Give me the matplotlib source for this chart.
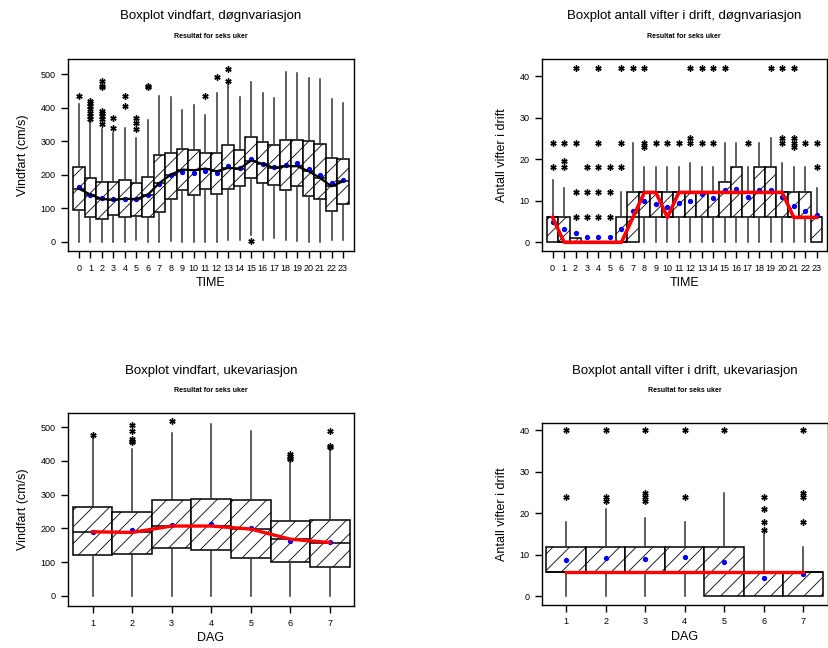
import matplotlib
matplotlib.use("Agg")
import matplotlib.pyplot as plt
import numpy as np

plt.rcParams['font.family'] = ['Liberation Sans', 'DejaVu Sans']
plt.rcParams['hatch.linewidth'] = 0.6

# --- vindfart, døgnvariasjon (TIME 0..23) ---
hours = list(range(24))
vf_q1 = [93, 72, 68, 78, 72, 77, 72, 87, 128, 155, 140, 158, 143, 158, 165, 190,
         175, 168, 153, 165, 135, 128, 90, 113]
vf_med = [158, 140, 127, 125, 128, 127, 140, 175, 200, 215, 213, 218, 210, 220, 218, 242,
          232, 220, 225, 225, 210, 190, 165, 180]
vf_q3 = [224, 190, 178, 178, 183, 175, 193, 258, 265, 275, 272, 265, 263, 287, 273, 312,
         297, 287, 303, 303, 300, 290, 250, 247]
vf_lo = [0, 0, 0, 0, 0, 5, 0, 0, 2, 0, 0, 0, 0, 5, 5, 20, 5, 10, 5, 2, 0, 0, 5, 5]
vf_hi = [412, 360, 337, 325, 338, 310, 363, 436, 432, 392, 407, 378, 443, 470, 432, 475,
         445, 430, 507, 503, 488, 485, 425, 413]
vf_mean = [162, 139, 130, 128, 127, 128, 140, 172, 200, 208, 205, 212, 205, 225, 220, 248,
           233, 223, 230, 236, 218, 200, 175, 183]
vf_out = [[435], [365, 375, 385, 395, 405, 415, 420], [350, 365, 375, 385, 390, 460, 465, 480],
          [340, 370], [405, 435], [335, 355, 370], [460, 463], [], [], [], [], [435], [492],
          [480, 515], [], [3], [], [], [], [], [], [], [], []]

# --- antall vifter i drift, døgnvariasjon ---
av_q1 = [0, 0, 0, 0, 0, 0, 0, 0, 6, 6, 6, 6, 6, 6, 6, 6, 6, 6, 6, 6, 6, 6, 6, 0]
av_med = [6, 0, 0, 0, 0, 0, 0, 6, 12, 12, 6, 12, 12, 12, 12, 12, 12, 12, 12, 12, 12, 6, 6, 6]
av_q3 = [6, 6, 1, 0, 0, 0, 6, 12, 12, 12, 12, 12, 12, 12, 12, 14.5, 18, 12, 18, 18, 12, 12, 12, 6]
av_lo = [0] * 24
av_hi = [15, 13, 1, 0, 0, 0, 12, 24, 18, 18, 18, 18, 19, 18, 18, 24, 24, 18, 24, 25, 19, 18, 18, 13]
av_mean = [4.9, 3.2, 2.2, 1.3, 1.3, 1.2, 3.2, 7.5, 10, 9.2, 8.6, 9.5, 10, 11.5, 10.6, 12.5,
           12.8, 11, 12.5, 12.5, 10.8, 8.8, 7.5, 6.5]
av_out = [[18, 24], [18, 19.5, 24], [6, 12, 24, 42], [6, 12, 18], [6, 12, 18, 24, 42],
          [6, 12, 18], [18, 24, 42], [42], [23, 24, 42], [24], [24], [24], [24, 25, 42],
          [24, 42], [24, 42], [42], [], [24], [], [42], [24, 25, 42], [23, 24, 25, 42], [24],
          [18, 24]]

# --- vindfart, ukevariasjon (DAG 1..7) ---
days = list(range(1, 8))
vu_q1 = [122, 125, 143, 135, 113, 100, 85]
vu_med = [190, 188, 207, 207, 198, 168, 158]
vu_q3 = [262, 250, 283, 287, 283, 222, 226]
vu_lo = [0, 0, 0, 0, 0, 0, 0]
vu_hi = [470, 435, 483, 508, 490, 393, 435]
vu_mean = [190, 195, 210, 212, 202, 163, 160]
vu_out = [[478], [455, 460, 465, 490, 505], [517], [], [], [405, 410, 415, 420], [440, 445, 490]]

# --- antall vifter i drift, ukevariasjon ---
au_q1 = [6, 6, 6, 6, 0, 0, 0]
au_med = [6, 6, 6, 6, 6, 6, 6]
au_q3 = [12, 12, 12, 12, 12, 6, 6]
au_lo = [0, 0, 0, 0, 0, 0, 0]
au_hi = [18, 21, 19, 18, 25, 15, 12]
au_mean = [8.8, 9.2, 9.0, 9.5, 8.3, 4.5, 5.4]
au_out = [[24, 40], [23, 24, 40], [23, 24, 25, 40], [24, 40], [40], [16, 18, 21, 24],
          [18, 24, 25, 40]]


def boxpanel(ax, x, q1, med, q3, lo, hi, mean, out, linecolor, lw):
    stats = []
    for i in range(len(x)):
        stats.append(dict(q1=q1[i], med=med[i], q3=q3[i], whislo=lo[i], whishi=hi[i],
                          mean=mean[i], fliers=out[i]))
    ax.bxp(stats, positions=x, widths=1.0, patch_artist=True, showcaps=False,
           showmeans=True, manage_ticks=False,
           boxprops=dict(facecolor='white', edgecolor='black', linewidth=1.1, hatch='//'),
           medianprops=dict(color='black', linewidth=1.1),
           whiskerprops=dict(color='#333333', linewidth=1.1),
           meanprops=dict(marker='o', markerfacecolor='blue', markeredgecolor='blue',
                          markersize=2.8),
           flierprops=dict(marker=(6, 2, 0), markeredgecolor='black', markersize=4.5,
                           markeredgewidth=1.0))
    ax.plot(x, med, color=linecolor, lw=lw, zorder=5)
    for s in ax.spines.values():
        s.set_linewidth(1.0)
    ax.tick_params(direction='out', length=5, width=1, labelsize=6.5, pad=4)


fig = plt.figure(figsize=(8.29, 6.48), dpi=100)
W, H = 829, 648


def axes_px(l, t, r, b):
    return fig.add_axes([l / W, 1 - b / H, (r - l) / W, (b - t) / H])


ax1 = axes_px(68, 59, 354, 251)
boxpanel(ax1, hours, vf_q1, vf_med, vf_q3, vf_lo, vf_hi, vf_mean, vf_out, 'black', 1.6)
ax1.set_xlim(-0.96, 23.96)
ax1.set_ylim(-28, 545)
ax1.set_yticks([0, 100, 200, 300, 400, 500])
ax1.set_xticks(hours)
ax1.set_xlabel('TIME', fontsize=9, labelpad=3)
ax1.set_ylabel('Vindfart (cm/s)', fontsize=9, labelpad=8)

ax2 = axes_px(542, 59, 827, 251)
boxpanel(ax2, hours, av_q1, av_med, av_q3, av_lo, av_hi, av_mean, av_out, 'red', 2.6)
ax2.set_xlim(-0.92, 23.9)
ax2.set_ylim(-2.1, 44.1)
ax2.set_yticks([0, 10, 20, 30, 40])
ax2.set_xticks(hours)
ax2.set_xlabel('TIME', fontsize=9, labelpad=3)
ax2.set_ylabel('Antall vifter i drift', fontsize=9, labelpad=8)

ax3 = axes_px(68, 413, 354, 606)
boxpanel(ax3, days, vu_q1, vu_med, vu_q3, vu_lo, vu_hi, vu_mean, vu_out, 'red', 2.4)
ax3.set_xlim(0.38, 7.61)
ax3.set_ylim(-30, 542)
ax3.set_yticks([0, 100, 200, 300, 400, 500])
ax3.set_xticks(days)
ax3.set_xlabel('DAG', fontsize=9, labelpad=3)
ax3.set_ylabel('Vindfart (cm/s)', fontsize=9, labelpad=8)

ax4 = axes_px(542, 423, 828, 605)
boxpanel(ax4, days, au_q1, au_med, au_q3, au_lo, au_hi, au_mean, au_out, 'red', 2.4)
ax4.set_xlim(0.39, 7.63)
ax4.set_ylim(-2.06, 41.8)
ax4.set_yticks([0, 10, 20, 30, 40])
ax4.set_xticks(days)
ax4.set_xlabel('DAG', fontsize=9, labelpad=3)
ax4.set_ylabel('Antall vifter i drift', fontsize=9, labelpad=8)

titles = [('Boxplot vindfart, døgnvariasjon', 211, 16),
          ('Boxplot antall vifter i drift, døgnvariasjon', 684, 16),
          ('Boxplot vindfart, ukevariasjon', 211, 371),
          ('Boxplot antall vifter i drift, ukevariasjon', 685, 371)]
for txt, cx, cy in titles:
    fig.text(cx / W, 1 - cy / H, txt, ha='center', va='center', fontsize=9.5)
    fig.text(cx / W, 1 - (cy + 20) / H, 'Resultat for seks uker', ha='center', va='center',
             fontsize=5, fontweight='bold')

fig.savefig('out.png', dpi=100)
